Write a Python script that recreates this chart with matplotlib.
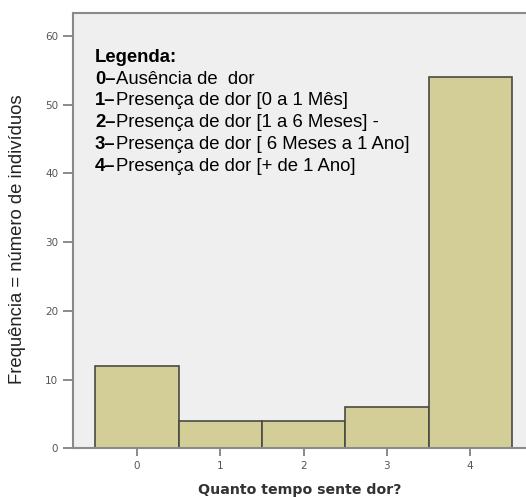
import matplotlib.pyplot as plt

categories = [0, 1, 2, 3, 4]
counts = [12, 4, 4, 6, 54]
y_ticks = [0, 10, 20, 30, 40, 50, 60]

legend_title = "Legenda:"
legend_keys = ["0–", "1–", "2–", "3–", "4–"]
legend_texts = [
    "Ausência de  dor",
    "Presença de dor [0 a 1 Mês]",
    "Presença de dor [1 a 6 Meses] -",
    "Presença de dor [ 6 Meses a 1 Ano]",
    "Presença de dor [+ de 1 Ano]",
]

W, H = 526, 497
fig = plt.figure(figsize=(W / 100, H / 100), dpi=100)
ax = fig.add_axes([72.7 / W, 1 - 448.3 / H, 1 - 72.7 / W, (448.3 - 13) / H])
ax.set_facecolor("#efefef")

ax.bar(categories, counts, width=1.0, color="#d3ce98", edgecolor="#4a4a44", linewidth=1.2, zorder=2)

ax.set_xlim(-0.77, 4.67)
ax.set_ylim(0, 63.35)
ax.set_xticks(categories)
ax.set_yticks(y_ticks)
ax.tick_params(axis="both", colors="#777777", labelcolor="#555555", labelsize=7.5, length=6, width=1.2)
ax.tick_params(axis="y", length=7)

ax.spines["right"].set_visible(False)
for side in ["left", "top", "bottom"]:
    ax.spines[side].set_color("#8a8a8a")
    ax.spines[side].set_linewidth(1.5)

ax.set_xlabel("Quanto tempo sente dor?", fontsize=10.2, fontweight="bold", color="#333333", family="DejaVu Sans", labelpad=8)

fig.text(18 / W, 1 - 239 / H, "Frequência = número de indivíduos", rotation=90,
         ha="center", va="center", fontsize=13.3, family="Liberation Sans", color="#222222")

# legend block written as text inside the plot
fs = 13.3
x0 = 95
y0 = 62
step = 21.7
renderer = fig.canvas.get_renderer()
fig.text(x0 / W, 1 - y0 / H, legend_title, fontsize=fs, fontweight="bold", family="Liberation Sans", va="baseline")
for i, (key, txt) in enumerate(zip(legend_keys, legend_texts)):
    yy = 1 - (y0 + (i + 1) * step) / H
    t = fig.text(x0 / W, yy, key, fontsize=fs, fontweight="bold", family="Liberation Sans", va="baseline")
    x1 = t.get_window_extent(renderer).x1
    fig.text(x1 / W, yy, txt, fontsize=fs, family="Liberation Sans", va="baseline")

fig.savefig("out.png", dpi=100)
